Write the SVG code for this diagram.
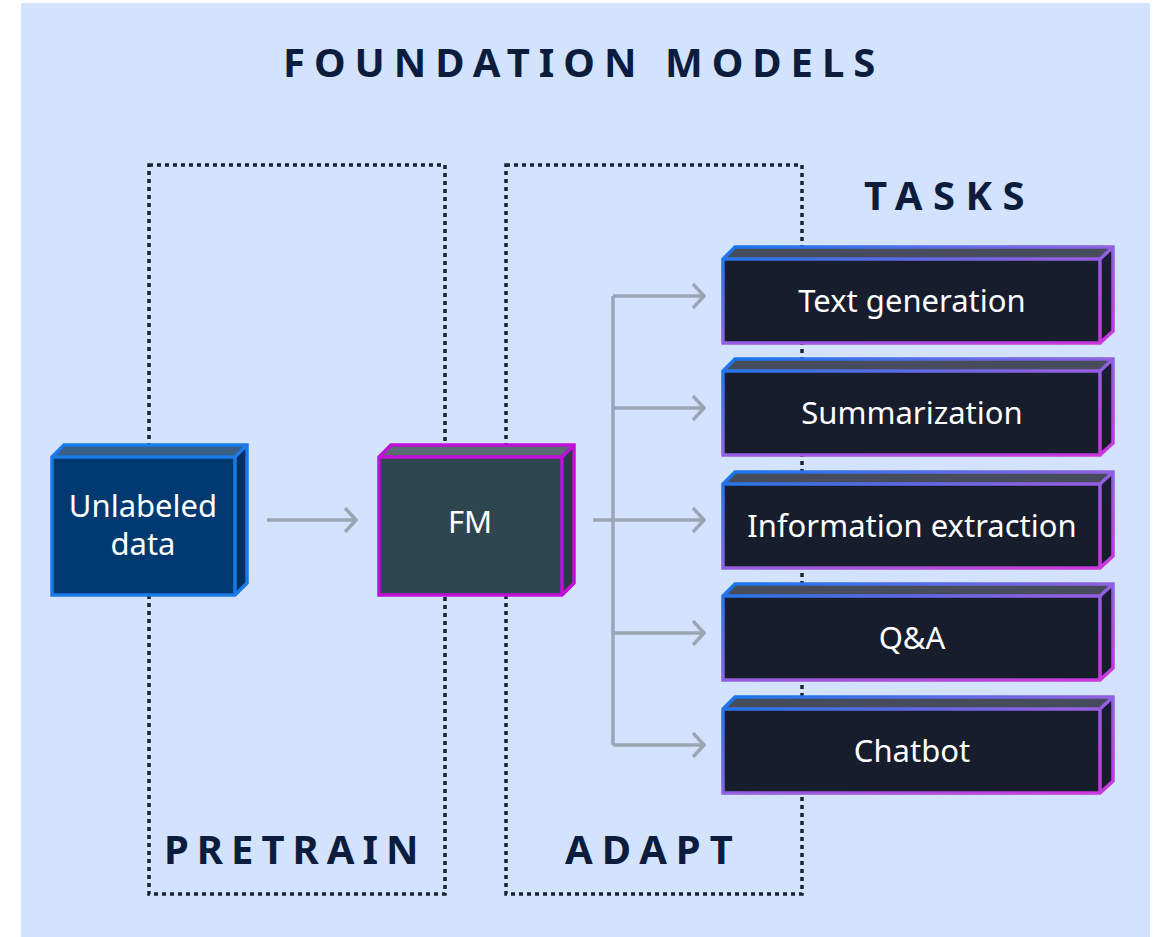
<svg xmlns="http://www.w3.org/2000/svg" width="1160" height="937" viewBox="0 0 1160 937">
<style>
.head{font-family:"Noto Sans","Open Sans","DejaVu Sans",sans-serif;font-weight:700;font-size:40px;fill:#0b1c3d;letter-spacing:9px}
.lbl{font-family:"Noto Sans","Open Sans","DejaVu Sans",sans-serif;font-size:31px;fill:#ffffff;text-anchor:middle;dominant-baseline:central}
.dot{fill:none;stroke:#1b2232;stroke-width:3.5;stroke-dasharray:4 4}
.conn{fill:none;stroke:#9ba6b4;stroke-width:3.5}
.task-front{fill:#171d2c}
.task-top{fill:#474c5d}
.task-edge{fill:none;stroke:url(#tg);stroke-width:3.5;stroke-linejoin:miter}
</style>
<defs>
<linearGradient id="tg" x1="0" y1="0" x2="1" y2="1">
<stop offset="0" stop-color="#1478ea"/>
<stop offset="0.5" stop-color="#9160e2"/>
<stop offset="1" stop-color="#cc36dc"/>
</linearGradient>
<marker id="ah" viewBox="0 0 14 26" refX="12" refY="13" markerWidth="14" markerHeight="26" markerUnits="userSpaceOnUse" orient="auto">
<path d="M1 1 L12 13 L1 25" fill="none" stroke="#9ba6b4" stroke-width="3.5"/>
</marker>
</defs>
<rect x="21" y="3" width="1129" height="934" fill="#d3e3fd"/>
<text class="head" x="283" y="77">FOUNDATION MODELS</text>
<text class="head" x="864" y="210" style="letter-spacing:10.5px">TASKS</text>
<text class="head" x="164" y="864" style="letter-spacing:8px">PRETRAIN</text>
<text class="head" x="565" y="864">ADAPT</text>
<g id="stages">
<rect class="dot" x="149" y="165" width="296" height="729"/>
<rect class="dot" x="506" y="165" width="296" height="729"/>
</g>
<g id="connectors">
<path class="conn" d="M267 520 H356" marker-end="url(#ah)"/>
<path class="conn" d="M593 520 H613"/>
<path class="conn" d="M613 296 V745"/>
<path class="conn" d="M613 296 H704" marker-end="url(#ah)"/>
<path class="conn" d="M613 408 H704" marker-end="url(#ah)"/>
<path class="conn" d="M613 520 H704" marker-end="url(#ah)"/>
<path class="conn" d="M613 633 H704" marker-end="url(#ah)"/>
<path class="conn" d="M613 745 H704" marker-end="url(#ah)"/>
</g>
<g id="unlabeled-data">
<polygon points="52,457 64,445 247,445 235,457" fill="#3a5f86"/>
<polygon points="235,457 247,445 247,583 235,595" fill="#00305f"/>
<rect x="52" y="457" width="183" height="138" fill="#003a70"/>
<path d="M52 457 L64 445 H247 V583 L235 595 H52 Z M52 457 H235 V595 M235 457 L247 445" fill="none" stroke="#1a7ae8" stroke-width="3.5"/>
<text class="lbl" x="143" y="505">Unlabeled</text>
<text class="lbl" x="143" y="543">data</text>
</g>
<g id="fm">
<polygon points="379,457 391,445 574,445 562,457" fill="#5b6b73"/>
<polygon points="562,457 574,445 574,583 562,595" fill="#273c46"/>
<rect x="379" y="457" width="183" height="138" fill="#2e4650"/>
<path d="M379 457 L391 445 H574 V583 L562 595 H379 Z M379 457 H562 V595 M562 457 L574 445" fill="none" stroke="#c00fd8" stroke-width="3.5"/>
<text class="lbl" x="470" y="521">FM</text>
</g>
<g id="task-text-generation">
<polygon class="task-top" points="723,259 735,247 1113,247 1100,259"/>
<polygon class="task-front" points="723,259 1100,259 1113,247 1113,331 1100,343 723,343"/>
<path class="task-edge" d="M723 259 L735 247 H1113 V331 L1100 343 H723 Z M723 259 H1100 V343 M1100 259 L1113 247"/>
<text class="lbl" x="912" y="300">Text generation</text>
</g>
<g id="task-summarization">
<polygon class="task-top" points="723,371 735,359 1113,359 1100,371"/>
<polygon class="task-front" points="723,371 1100,371 1113,359 1113,443 1100,455 723,455"/>
<path class="task-edge" d="M723 371 L735 359 H1113 V443 L1100 455 H723 Z M723 371 H1100 V455 M1100 371 L1113 359"/>
<text class="lbl" x="912" y="412">Summarization</text>
</g>
<g id="task-information-extraction">
<polygon class="task-top" points="723,484 735,472 1113,472 1100,484"/>
<polygon class="task-front" points="723,484 1100,484 1113,472 1113,556 1100,568 723,568"/>
<path class="task-edge" d="M723 484 L735 472 H1113 V556 L1100 568 H723 Z M723 484 H1100 V568 M1100 484 L1113 472"/>
<text class="lbl" x="912" y="525">Information extraction</text>
</g>
<g id="task-qa">
<polygon class="task-top" points="723,596 735,584 1113,584 1100,596"/>
<polygon class="task-front" points="723,596 1100,596 1113,584 1113,668 1100,680 723,680"/>
<path class="task-edge" d="M723 596 L735 584 H1113 V668 L1100 680 H723 Z M723 596 H1100 V680 M1100 596 L1113 584"/>
<text class="lbl" x="912" y="637">Q&amp;A</text>
</g>
<g id="task-chatbot">
<polygon class="task-top" points="723,709 735,697 1113,697 1100,709"/>
<polygon class="task-front" points="723,709 1100,709 1113,697 1113,781 1100,793 723,793"/>
<path class="task-edge" d="M723 709 L735 697 H1113 V781 L1100 793 H723 Z M723 709 H1100 V793 M1100 709 L1113 697"/>
<text class="lbl" x="912" y="750">Chatbot</text>
</g>
</svg>
